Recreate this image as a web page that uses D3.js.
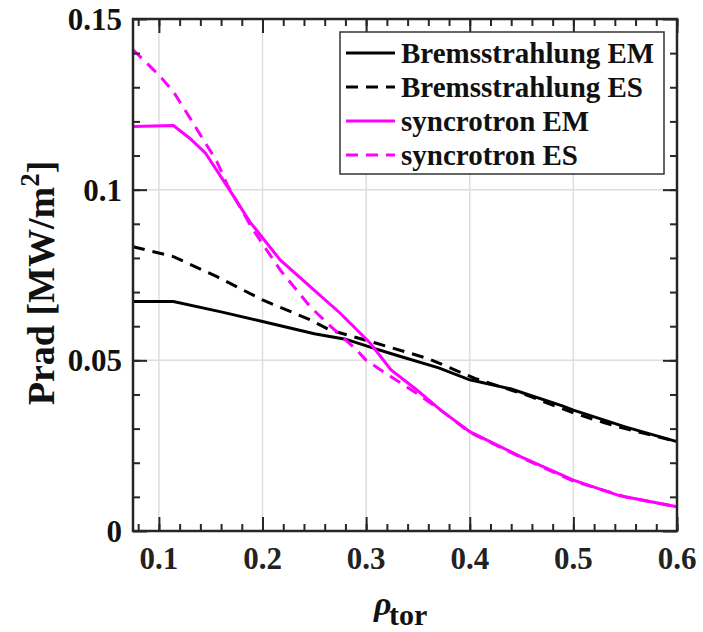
<!DOCTYPE html>
<html>
<head>
<meta charset="utf-8">
<script src="https://cdn.jsdelivr.net/npm/d3@7"></script>
<style>
  body { margin: 0; background: #fff; }
  text { font-family: "Liberation Serif", "Times New Roman", serif; font-weight: bold; }
</style>
</head>
<body>
<svg class="prad" width="703" height="632"></svg>
<script>
const bremsEmX = [0.075, 0.114, 0.16, 0.2, 0.25, 0.28, 0.31, 0.33, 0.37, 0.4, 0.44, 0.49, 0.5, 0.55, 0.6];
const bremsEmY = [0.0672, 0.0672, 0.0642, 0.0614, 0.0578, 0.0562, 0.0533, 0.0514, 0.0478, 0.0443, 0.0416, 0.0366, 0.0354, 0.0305, 0.0262];

const bremsEsX = [0.075, 0.114, 0.156, 0.2, 0.245, 0.265, 0.31, 0.36, 0.405, 0.455, 0.48, 0.503, 0.53, 0.55, 0.6];
const bremsEsY = [0.0833, 0.0804, 0.0745, 0.0677, 0.062, 0.0589, 0.055, 0.0505, 0.0447, 0.0398, 0.0369, 0.0343, 0.0317, 0.03, 0.0262];

const syncEmX = [0.075, 0.114, 0.13, 0.145, 0.165, 0.188, 0.217, 0.246, 0.275, 0.304, 0.324, 0.349, 0.372, 0.4, 0.449, 0.5, 0.545, 0.6];
const syncEmY = [0.1185, 0.1188, 0.115, 0.1107, 0.1014, 0.0905, 0.0794, 0.0716, 0.0638, 0.055, 0.0472, 0.0413, 0.0354, 0.0291, 0.0218, 0.0149, 0.0103, 0.0071];

const syncEsX = [0.075, 0.1, 0.114, 0.13, 0.143, 0.156, 0.166, 0.191, 0.217, 0.246, 0.266, 0.291, 0.3, 0.324, 0.349, 0.372, 0.4, 0.45, 0.5, 0.55, 0.6];
const syncEsY = [0.141, 0.1336, 0.1287, 0.121, 0.1146, 0.1082, 0.1014, 0.0882, 0.0765, 0.0657, 0.0599, 0.053, 0.05, 0.0452, 0.0403, 0.0354, 0.0289, 0.0215, 0.0146, 0.01, 0.0071];

const seriesNames = ['Bremsstrahlung EM', 'Bremsstrahlung ES', 'syncrotron EM', 'syncrotron ES'];
const xTicks = [0.1, 0.2, 0.3, 0.4, 0.5, 0.6];
const yTicks = [0, 0.05, 0.1, 0.15];
const yTickLabels = ['0', '0.05', '0.1', '0.15'];

const series = [
    { name: seriesNames[0], xs: bremsEmX, ys: bremsEmY, color: '#000', dash: null },
    { name: seriesNames[1], xs: bremsEsX, ys: bremsEsY, color: '#000', dash: '12,8' },
    { name: seriesNames[2], xs: syncEmX, ys: syncEmY, color: '#ff00ff', dash: null },
    { name: seriesNames[3], xs: syncEsX, ys: syncEsY, color: '#ff00ff', dash: '12,8' },
];

const svg = d3.select('svg.prad');
const margin = { top: 19, right: 26, bottom: 101, left: 133 };
const width = +svg.attr('width') - margin.left - margin.right;
const height = +svg.attr('height') - margin.top - margin.bottom;

const xScale = d3.scaleLinear().domain([0.075, 0.6]).range([0, width]);
const yScale = d3.scaleLinear().domain([0, 0.15]).range([height, 0]);

const g = svg.append('g').attr('transform', `translate(${margin.left},${margin.top})`);

// grid
g.append('g').selectAll('line').data(xTicks.slice(0, -1))
    .enter().append('line')
    .attr('x1', d => xScale(d)).attr('x2', d => xScale(d))
    .attr('y1', 0).attr('y2', height)
    .attr('stroke', '#dedede').attr('stroke-width', 1.5);
g.append('g').selectAll('line').data(yTicks.slice(1, -1))
    .enter().append('line')
    .attr('x1', 0).attr('x2', width)
    .attr('y1', d => yScale(d)).attr('y2', d => yScale(d))
    .attr('stroke', '#dedede').attr('stroke-width', 1.5);

// curves
const line = d3.line().x(d => xScale(d[0])).y(d => yScale(d[1]));
g.selectAll('path.curve').data(series)
    .enter().append('path')
    .attr('class', 'curve')
    .attr('d', d => line(d.xs.map((x, i) => [x, d.ys[i]])))
    .attr('fill', 'none')
    .attr('stroke', d => d.color)
    .attr('stroke-width', 3)
    .attr('stroke-dasharray', d => d.dash);

// axes, ticks pointing inward on all four sides
const xMinor = d3.range(0.08, 0.6001, 0.02);
const yMinor = d3.range(0.01, 0.15, 0.01);
const axisColor = '#262626';

const tickStyle = sel => {
    sel.select('.domain').remove();
    sel.selectAll('.tick line').attr('stroke', axisColor).attr('stroke-width', 2);
    sel.selectAll('.tick text').remove();
};

g.append('g').attr('transform', `translate(0,${height})`)
    .call(d3.axisBottom(xScale).tickValues(xMinor).tickSize(-7)).call(tickStyle);
g.append('g').attr('transform', `translate(0,${height})`)
    .call(d3.axisBottom(xScale).tickValues(xTicks).tickSize(-14)).call(tickStyle);
g.append('g')
    .call(d3.axisTop(xScale).tickValues(xMinor).tickSize(-7)).call(tickStyle);
g.append('g')
    .call(d3.axisTop(xScale).tickValues(xTicks).tickSize(-14)).call(tickStyle);
g.append('g')
    .call(d3.axisLeft(yScale).tickValues(yMinor).tickSize(-7)).call(tickStyle);
g.append('g')
    .call(d3.axisLeft(yScale).tickValues(yTicks).tickSize(-14)).call(tickStyle);
g.append('g').attr('transform', `translate(${width},0)`)
    .call(d3.axisRight(yScale).tickValues(yMinor).tickSize(-7)).call(tickStyle);
g.append('g').attr('transform', `translate(${width},0)`)
    .call(d3.axisRight(yScale).tickValues(yTicks).tickSize(-14)).call(tickStyle);

g.append('rect')
    .attr('width', width).attr('height', height)
    .attr('fill', 'none').attr('stroke', axisColor).attr('stroke-width', 2.5);

// tick labels
g.selectAll('text.xlab').data(xTicks)
    .enter().append('text')
    .attr('class', 'xlab')
    .attr('x', d => xScale(d)).attr('y', height + 38)
    .attr('text-anchor', 'middle')
    .style('font-size', '31px').attr('fill', '#222')
    .text(d => d);
g.selectAll('text.ylab').data(yTicks)
    .enter().append('text')
    .attr('class', 'ylab')
    .attr('x', -11).attr('y', d => yScale(d) + 11)
    .attr('text-anchor', 'end')
    .style('font-size', '31px').attr('fill', '#111')
    .text((d, i) => yTickLabels[i]);

// axis titles
const yTitle = svg.append('text')
    .attr('transform', 'translate(54,283) rotate(-90)')
    .attr('text-anchor', 'middle')
    .style('font-size', '38px').attr('fill', '#111');
yTitle.append('tspan').text('Prad [MW/m');
yTitle.append('tspan').attr('dy', -15).style('font-size', '27px').text('2');
yTitle.append('tspan').attr('dy', 15).text(']');

svg.append('text')
    .attr('x', 374).attr('y', 615)
    .style('font-size', '34px').style('font-style', 'italic')
    .attr('fill', '#111')
    .text('ρ');
svg.append('text')
    .attr('x', 389).attr('y', 625)
    .style('font-size', '30px').attr('fill', '#111')
    .text('tor');

// legend
const legend = svg.append('g').attr('transform', 'translate(340,32)');
legend.append('rect')
    .attr('width', 324).attr('height', 142)
    .attr('fill', '#fff').attr('stroke', '#333').attr('stroke-width', 1.5);
const rows = legend.selectAll('g.row').data(series)
    .enter().append('g')
    .attr('class', 'row')
    .attr('transform', (d, i) => `translate(0,${21 + i * 34})`);
rows.append('line')
    .attr('x1', 6).attr('x2', 55)
    .attr('stroke', d => d.color).attr('stroke-width', 3)
    .attr('stroke-dasharray', d => d.dash);
rows.append('text')
    .attr('x', 61).attr('y', 10)
    .style('font-size', '29px').attr('fill', '#111')
    .text(d => d.name);
</script>
</body>
</html>
